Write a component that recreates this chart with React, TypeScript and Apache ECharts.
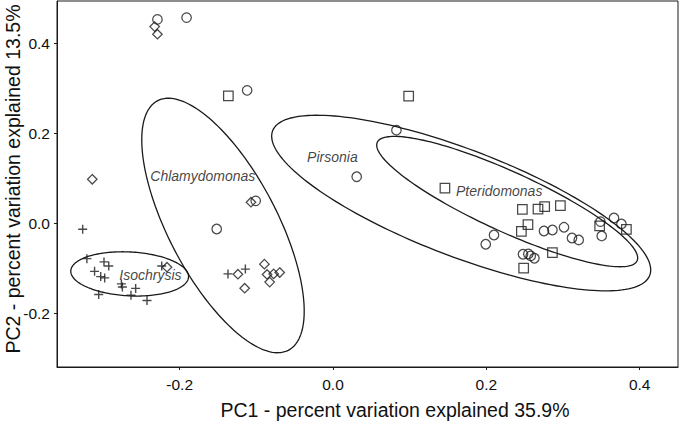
import React, { useEffect, useRef } from 'react';
import * as echarts from 'echarts';

// PCA scores [PC1, PC2]
const circlePoints: number[][] = [
  [-0.229, 0.454], [-0.191, 0.458], [-0.112, 0.296], [-0.1008, 0.050], [-0.1517, -0.0127],
  [0.0827, 0.2073], [0.0309, 0.1036], [0.21, -0.026], [0.1992, -0.0467], [0.2752, -0.0171],
  [0.2862, -0.0149], [0.3013, -0.0089], [0.3117, -0.0327], [0.3205, -0.0371], [0.2478, -0.0689],
  [0.2548, -0.0682], [0.2579, -0.0727], [0.2627, -0.0778], [0.3488, 0.0036], [0.3505, -0.0282],
  [0.3665, 0.0118], [0.3762, -0.0015],
];
const diamondPoints: number[][] = [
  [-0.2326, 0.438], [-0.229, 0.421], [-0.314, 0.098], [-0.2165, -0.0978], [-0.107, 0.047],
  [-0.124, -0.1134], [-0.1152, -0.1445], [-0.0895, -0.091], [-0.086, -0.114], [-0.0774, -0.1127],
  [-0.0695, -0.1097], [-0.0826, -0.131],
];
const squarePoints: number[][] = [
  [-0.1365, 0.2836], [0.0987, 0.2829], [0.146, 0.0785], [0.247, 0.031], [0.2674, 0.0318],
  [0.2761, 0.0369], [0.2966, 0.0391], [0.2543, -0.003], [0.2457, -0.0178], [0.3478, -0.006],
  [0.3827, -0.0133], [0.2862, -0.0653], [0.2487, -0.1],
];
const plusPoints: number[][] = [
  [-0.3265, -0.0133], [-0.321, -0.0787], [-0.2987, -0.086], [-0.2925, -0.095], [-0.311, -0.107],
  [-0.303, -0.1187], [-0.2978, -0.1216], [-0.276, -0.135], [-0.2747, -0.142], [-0.2574, -0.145],
  [-0.3056, -0.1587], [-0.2635, -0.16], [-0.2426, -0.172], [-0.2234, -0.095], [-0.137, -0.1127],
  [-0.1143, -0.102],
];

// Group ellipses: centre and two conjugate half-axis vectors (data units)
const ellipseNames = ['Isochrysis', 'Chlamydomonas', 'Pirsonia', 'Pteridomonas'];
const ellipseCenters: number[][] = [[-0.2652, -0.1127], [-0.1435, -0.0049], [0.1672, 0.0451], [0.2272, 0.0484]];
const ellipseU: number[][] = [[0.0768, -0.0069], [0.0851, -0.278], [0.2472, -0.1489], [0.1702, -0.1256]];
const ellipseV: number[][] = [[-0.0015, -0.0488], [-0.0631, -0.0548], [0, -0.1267], [0, -0.0728]];

// Group labels
const labelNames = ['Chlamydomonas', 'Isochrysis', 'Pirsonia', 'Pteridomonas'];
const labelPositions: number[][] = [[-0.1698, 0.1051], [-0.2382, -0.1149], [-0.0008, 0.148], [0.2168, 0.0711]];

const xTicks = [-0.2, 0, 0.2, 0.4];
const yTicks = [-0.2, 0, 0.2, 0.4];
const xTitle = 'PC1 - percent variation explained 35.9%';
const yTitle = 'PC2 - percent variation explained 13.5%';

const FONT = '"Liberation Sans", Arial, Helvetica, sans-serif';
const INK = '#1a1a1a';

export default function App() {
  const ref = useRef<HTMLDivElement>(null);
  useEffect(() => {
    const chart = echarts.init(ref.current!, null, { renderer: 'svg' });
    const openStyle = { color: 'rgba(0,0,0,0)', borderColor: INK, borderWidth: 1.25 };
    const option: any = {
      animation: false,
      backgroundColor: '#fff',
      grid: {
        left: 57, right: 2, top: 1, bottom: 56,
        show: true, borderColor: INK, borderWidth: 1, backgroundColor: 'transparent',
        outerBoundsMode: 'none',
      },
      xAxis: {
        type: 'value', min: -0.36, max: 0.45,
        splitLine: { show: false },
        axisLine: { show: true, onZero: false, lineStyle: { color: INK, width: 1 } },
        axisTick: { show: true, customValues: xTicks, length: 3, lineStyle: { color: INK, width: 1 } },
        axisLabel: {
          customValues: xTicks, margin: 9, color: '#111', fontSize: 15.5, fontFamily: FONT,
          formatter: (v: number) => v.toFixed(1),
        },
      },
      yAxis: {
        type: 'value', min: -0.32, max: 0.495,
        splitLine: { show: false },
        axisLine: { show: true, onZero: false, lineStyle: { color: INK, width: 1 } },
        axisTick: { show: true, customValues: yTicks, length: 3, lineStyle: { color: INK, width: 1 } },
        axisLabel: {
          customValues: yTicks, margin: 7, color: '#111', fontSize: 15.5, fontFamily: FONT,
          formatter: (v: number) => v.toFixed(1),
        },
      },
      graphic: [
        {
          type: 'text', x: 395, y: 410,
          style: { text: xTitle, fill: '#111', font: `19.5px ${FONT}`, align: 'center', verticalAlign: 'middle' },
        },
        {
          type: 'text', x: 13, y: 179, rotation: Math.PI / 2,
          style: { text: yTitle, fill: '#111', font: `19.5px ${FONT}`, align: 'center', verticalAlign: 'middle' },
        },
      ],
      series: [
        {
          type: 'custom', name: 'ellipses', coordinateSystem: 'cartesian2d', silent: true,
          data: ellipseCenters.map((c, i) => ({ name: ellipseNames[i], value: c })),
          renderItem: (params: any, api: any) => {
            const i = params.dataIndex;
            const c = ellipseCenters[i], u = ellipseU[i], v = ellipseV[i];
            const pts: number[][] = [];
            for (let k = 0; k < 180; k++) {
              const t = (k / 180) * Math.PI * 2;
              pts.push(api.coord([
                c[0] + Math.cos(t) * u[0] + Math.sin(t) * v[0],
                c[1] + Math.cos(t) * u[1] + Math.sin(t) * v[1],
              ]));
            }
            return { type: 'polygon', shape: { points: pts }, style: { fill: 'none', stroke: INK, lineWidth: 1.3 } };
          },
          z: 1,
        },
        { type: 'scatter', name: 'Pirsonia', symbol: 'circle', symbolSize: 9.5, data: circlePoints, itemStyle: openStyle, z: 3 },
        { type: 'scatter', name: 'Chlamydomonas', symbol: 'diamond', symbolSize: 9.5, data: diamondPoints, itemStyle: openStyle, z: 3 },
        { type: 'scatter', name: 'Pteridomonas', symbol: 'rect', symbolSize: 9.5, data: squarePoints, itemStyle: openStyle, z: 3 },
        {
          type: 'scatter', name: 'Isochrysis', symbol: 'path://M0,5L10,5M5,0L5,10', symbolSize: 9,
          data: plusPoints, itemStyle: { color: 'none', borderColor: INK, borderWidth: 1.4 }, z: 3,
        },
        {
          type: 'scatter', name: 'labels', symbolSize: 0, silent: true,
          data: labelPositions.map((p, i) => ({ name: labelNames[i], value: p })),
          label: {
            show: true, position: [0, 0], align: 'center', verticalAlign: 'middle',
            formatter: (p: any) => p.name,
            fontStyle: 'italic', fontSize: 14, fontFamily: FONT, color: '#111',
            textBorderWidth: 0, textBorderColor: 'transparent',
          },
          z: 4,
        },
      ],
    };
    chart.setOption(option);
    return () => chart.dispose();
  }, []);
  return <div ref={ref} style={{ position: 'fixed', left: 0, top: 0, width: 680, height: 423 }} />;
}
